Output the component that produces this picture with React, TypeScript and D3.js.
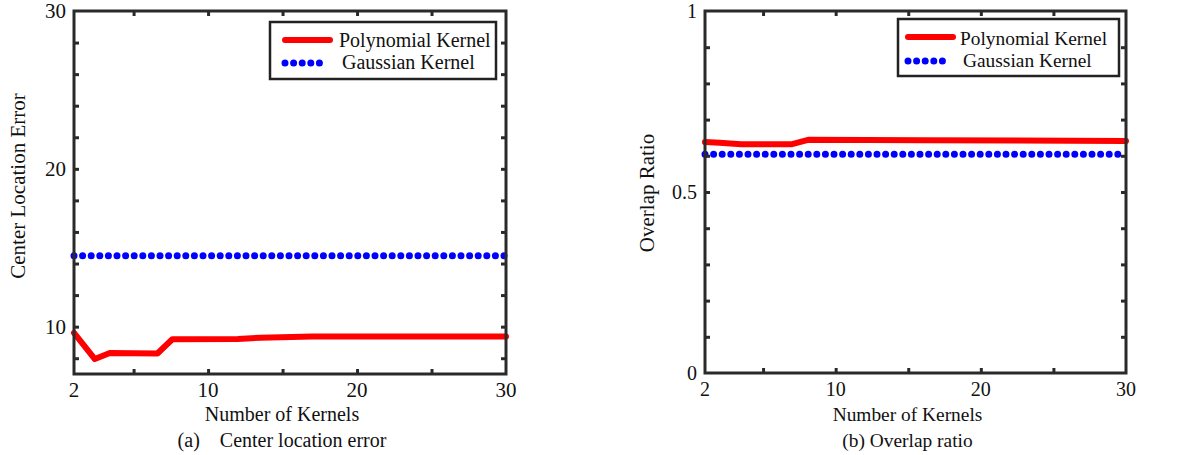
import React, { useRef, useEffect } from 'react';
import * as d3 from 'd3';

// x positions run 1..30 on the axis, labelled as in the paper
const xTickValues = [1, 10, 20, 30];
const xTickLabels = ['2', '10', '20', '30'];
const xMinorTicks = [5, 10, 15, 20, 25];

// (a) Center location error
const polyXa = [1, 2.4, 3.4, 6.6, 7.6, 12, 13.5, 17, 30];
const polyYa = [9.6, 7.95, 8.33, 8.3, 9.2, 9.22, 9.3, 9.37, 9.37];
const gaussXa = [1, 30];
const gaussYa = [14.5, 14.5];
const yLabelTicksA = [10, 20, 30];
const yMinorTicksA = [8, 10, 12, 14, 16, 18, 20, 22, 24, 26, 28];

// (b) Overlap ratio
const polyXb = [1, 2, 3.5, 7.0, 8.1, 16, 30];
const polyYb = [0.638, 0.636, 0.632, 0.632, 0.644, 0.643, 0.641];
const gaussXb = [1, 30];
const gaussYb = [0.604, 0.604];
const yLabelTicksB = [0, 0.5, 1];
const yMinorTicksB = [0.1, 0.2, 0.3, 0.4, 0.5, 0.6, 0.7, 0.8, 0.9];

const seriesNames = ['Polynomial Kernel', 'Gaussian Kernel'];

const FONT = "'Liberation Serif', 'Times New Roman', serif";
const INK = '#111';
const AXIS = '#2a2a2a';
const RED = '#ff0000';
const BLUE = '#0000ff';

const panels = [
  {
    box: { x0: 74, x1: 506, y0: 11, y1: 374 },
    yDomain: [7, 30],
    yLabelTicks: yLabelTicksA,
    yMinorTicks: yMinorTicksA,
    poly: d3.zip(polyXa, polyYa),
    gauss: d3.zip(gaussXa, gaussYa),
    yTitle: 'Center Location Error',
    yTitleX: 25,
    yTitleY: 186,
    caption: '(a)\u00a0\u00a0\u00a0\u00a0Center location error',
    tickFont: 21,
    labelFont: 20,
    legendFont: 20,
    legend: { x: 270, y: 22, w: 226, h: 57, l0: 15, l1: 60, ly: 18, t1: 69, b1: 25, d1: 53, dy: 41, t2: 72, b2: 47 },
  },
  {
    box: { x0: 705, x1: 1126, y0: 11, y1: 373 },
    yDomain: [0, 1],
    yLabelTicks: yLabelTicksB,
    yMinorTicks: yMinorTicksB,
    poly: d3.zip(polyXb, polyYb),
    gauss: d3.zip(gaussXb, gaussYb),
    yTitle: 'Overlap Ratio',
    yTitleX: 654,
    yTitleY: 193,
    caption: '(b) Overlap ratio',
    tickFont: 20,
    labelFont: 19.4,
    legendFont: 19.4,
    legend: { x: 898, y: 19, w: 221, h: 57, l0: 10, l1: 55, ly: 18, t1: 62, b1: 26, d1: 48, dy: 42, t2: 65, b2: 48 },
  },
];

const Chart = ({ width, height }) => {
  const ref = useRef(null);

  useEffect(() => {
    const svg = d3.select(ref.current)
      .attr('width', width)
      .attr('height', height)
      .style('background-color', 'white');

    svg.selectAll('*').remove();

    panels.forEach((p) => {
      const { x0, x1, y0, y1 } = p.box;
      const g = svg.append('g');

      const xScale = d3.scaleLinear().domain([1, 30]).range([x0, x1]);
      const yScale = d3.scaleLinear().domain(p.yDomain).range([y1, y0]);

      const line = d3.line()
        .x((d) => xScale(d[0]))
        .y((d) => yScale(d[1]))
        .curve(d3.curveLinear);

      // data lines
      g.append('path')
        .datum(p.gauss)
        .attr('d', line)
        .style('fill', 'none')
        .style('stroke', BLUE)
        .style('stroke-width', 7)
        .style('stroke-linecap', 'round')
        .style('stroke-dasharray', '0 8.6');

      g.append('path')
        .datum(p.poly)
        .attr('d', line)
        .style('fill', 'none')
        .style('stroke', RED)
        .style('stroke-width', 6)
        .style('stroke-linejoin', 'round')
        .style('stroke-linecap', 'round');

      // inward ticks on all four sides
      const tickLen = 5;
      const addTicks = (axis, transform) => {
        const a = g.append('g').attr('transform', transform).call(axis);
        a.select('.domain').remove();
        a.selectAll('line').style('stroke', AXIS).style('stroke-width', 3);
        a.selectAll('text').remove();
      };
      addTicks(d3.axisBottom(xScale).tickValues(xMinorTicks).tickSize(-tickLen), `translate(0, ${y1})`);
      addTicks(d3.axisTop(xScale).tickValues(xMinorTicks).tickSize(-tickLen), `translate(0, ${y0})`);
      addTicks(d3.axisLeft(yScale).tickValues(p.yMinorTicks).tickSize(-tickLen), `translate(${x0}, 0)`);
      addTicks(d3.axisRight(yScale).tickValues(p.yMinorTicks).tickSize(-tickLen), `translate(${x1}, 0)`);

      // box
      g.append('rect')
        .attr('x', x0).attr('y', y0)
        .attr('width', x1 - x0).attr('height', y1 - y0)
        .style('fill', 'none')
        .style('stroke', AXIS)
        .style('stroke-width', 3);

      // tick labels
      g.append('g').selectAll('text')
        .data(xTickValues)
        .enter().append('text')
        .attr('x', (d) => xScale(d))
        .attr('y', y1 + 23)
        .attr('text-anchor', 'middle')
        .style('font-family', FONT)
        .style('font-size', p.tickFont + 'px')
        .style('fill', INK)
        .text((d, i) => xTickLabels[i]);

      g.append('g').selectAll('text')
        .data(p.yLabelTicks)
        .enter().append('text')
        .attr('x', x0 - 8)
        .attr('y', (d) => yScale(d))
        .attr('dy', '0.35em')
        .attr('text-anchor', 'end')
        .style('font-family', FONT)
        .style('font-size', p.tickFont + 'px')
        .style('fill', INK)
        .text((d) => String(d));

      // axis titles
      const cx = (x0 + x1) / 2 - 8;
      g.append('text')
        .attr('x', cx)
        .attr('y', 421)
        .attr('text-anchor', 'middle')
        .style('font-family', FONT)
        .style('font-size', p.labelFont + 'px')
        .style('fill', INK)
        .text('Number of Kernels');

      g.append('text')
        .attr('x', cx)
        .attr('y', 447)
        .attr('text-anchor', 'middle')
        .style('font-family', FONT)
        .style('font-size', p.labelFont + 'px')
        .style('fill', INK)
        .text(p.caption);

      g.append('g')
        .attr('transform', `translate(${p.yTitleX}, ${p.yTitleY})`)
        .append('text')
        .attr('transform', 'rotate(-90)')
        .attr('text-anchor', 'middle')
        .style('font-family', FONT)
        .style('font-size', '21px')
        .style('fill', INK)
        .text(p.yTitle);

      // legend
      const L = p.legend;
      const lg = g.append('g').attr('transform', `translate(${L.x}, ${L.y})`);
      lg.append('rect')
        .attr('width', L.w).attr('height', L.h)
        .style('fill', 'white')
        .style('stroke', '#222')
        .style('stroke-width', 2.5);
      lg.append('line')
        .attr('x1', L.l0).attr('x2', L.l1).attr('y1', L.ly).attr('y2', L.ly)
        .style('stroke', RED).style('stroke-width', 6).style('stroke-linecap', 'round');
      lg.append('line')
        .attr('x1', L.l0).attr('x2', L.d1).attr('y1', L.dy).attr('y2', L.dy)
        .style('stroke', BLUE).style('stroke-width', 7).style('stroke-linecap', 'round')
        .style('stroke-dasharray', '0 8.6');
      lg.append('text')
        .attr('x', L.t1).attr('y', L.b1)
        .style('font-family', FONT).style('font-size', p.legendFont + 'px').style('fill', INK)
        .text(seriesNames[0]);
      lg.append('text')
        .attr('x', L.t2).attr('y', L.b2)
        .style('font-family', FONT).style('font-size', p.legendFont + 'px').style('fill', INK)
        .text(seriesNames[1]);
    });
  }, [width, height]);

  return <svg ref={ref}></svg>;
};

export default function App() {
  return (
    <div style={{ position: 'absolute', left: 0, top: 0 }}>
      <Chart width={1193} height={455} />
    </div>
  );
}
